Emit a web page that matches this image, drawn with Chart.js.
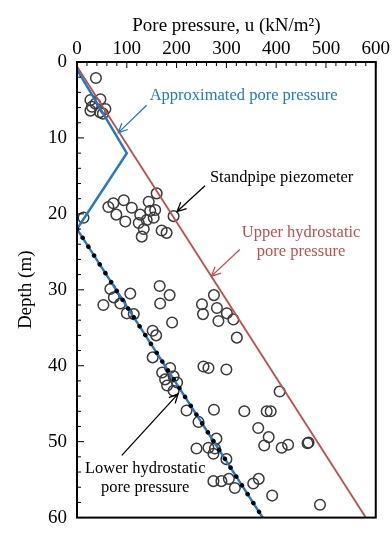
<!DOCTYPE html>
<html>
<head>
<meta charset="utf-8">
<script src="https://cdn.jsdelivr.net/npm/chart.js@4.4.1/dist/chart.umd.min.js"></script>
<style>
  html, body { margin: 0; padding: 0; background: #fff; }
  canvas { display: block; }
</style>
</head>
<body>
<canvas id="depthChart" width="392" height="539"></canvas>
<script>
// axis ranges
const uMin = 0, uMax = 600, uStep = 100;
const depthMin = 0, depthMax = 60, depthStep = 10;

// hydrostatic and approximated profiles (u in kN/m2, depth in m)
const upperU = [0, 580];
const upperDepth = [0.6, 60];
const approxU = [0, 100, 0, 373];
const approxDepth = [1, 12, 22, 60];
const lowerU = [0, 373];
const lowerDepth = [22, 60];

// standpipe piezometer readings
const piezoU = [
  38, 27, 47, 37, 30, 57, 27, 46, 52,
  160, 73, 63, 94, 110, 144, 157, 147, 127, 79, 97, 124, 140, 154, 134, 130, 170, 180, 194, 13,
  67, 53, 74, 87, 107, 100, 114, 166, 186, 167, 191, 152, 159, 251, 275, 253, 281, 284, 301, 314, 321,
  152, 187, 171, 194, 177, 201, 181, 194, 254, 264, 300, 407,
  220, 275, 336, 381, 389, 244, 364, 280, 385, 376, 240, 264, 277, 274, 300, 411, 424, 463, 465,
  274, 290, 305, 317, 354, 365, 392, 488
];
const piezoDepth = [
  2.1, 5.0, 4.9, 5.5, 5.9, 6.2, 6.4, 6.6, 6.8,
  17.3, 18.6, 19.1, 18.2, 19.2, 18.4, 19.5, 19.6, 20.1, 20.1, 21.0, 21.2, 20.8, 20.5, 22.0, 23.0, 22.2, 22.5, 20.3, 20.5,
  29.9, 32.0, 31.0, 31.8, 30.5, 33.1, 33.2, 29.5, 30.7, 31.8, 34.3, 35.4, 36.0, 31.9, 30.7, 33.2, 32.4, 34.1, 33.1, 33.9, 36.3,
  38.9, 40.3, 40.9, 41.4, 41.8, 42.2, 42.6, 43.3, 40.1, 40.3, 40.5, 43.4,
  45.9, 45.8, 46.0, 46.0, 46.0, 47.4, 48.2, 49.6, 49.4, 50.5, 50.9, 50.8, 50.9, 51.6, 52.3, 50.8, 50.4, 50.2, 50.1,
  55.2, 55.2, 54.9, 56.1, 55.5, 54.9, 57.1, 58.3
];

const blue = '#2479c5';
const red = '#c0504d';
const serif = '"Liberation Serif", "DejaVu Serif", serif';

const toPoints = (us, ds) => us.map((u, i) => ({ x: u, y: ds[i] }));

// callouts, positioned in data units
const callouts = [
  { lines: ['Approximated pore pressure'], u: 146, d: 4.5, align: 'left', color: blue, from: [140, 5.7], to: [83, 9.3] },
  { lines: ['Standpipe piezometer'], u: 267, d: 15.2, align: 'left', color: '#000', from: [257, 16.3], to: [201, 19.7] },
  { lines: ['Upper hydrostatic', 'pore pressure'], u: 450, d: 22.5, align: 'center', color: red, from: [327, 24.7], to: [270, 28.2] },
  { lines: ['Lower hydrostatic', 'pore pressure'], u: 137, d: 53.6, align: 'center', color: '#000', from: [90, 51.8], to: [203, 43.7] }
];

const framePlugin = {
  id: 'frame',
  afterDatasetsDraw(chart) {
    const { ctx, chartArea: a, scales: { x, y } } = chart;
    ctx.save();
    ctx.strokeStyle = '#000';
    // inner ticks along the top axis
    ctx.lineWidth = 1;
    for (let u = uMin; u <= uMax; u += 20) {
      const px = x.getPixelForValue(u);
      const len = u % uStep === 0 ? 6 : 4;
      ctx.beginPath();
      ctx.moveTo(px, a.top);
      ctx.lineTo(px, a.top + len);
      ctx.stroke();
    }
    // inner ticks along the depth axis
    for (let d = depthMin; d <= depthMax; d += 2) {
      const py = y.getPixelForValue(d);
      const len = d % depthStep === 0 ? 7 : 4;
      ctx.beginPath();
      ctx.moveTo(a.left, py);
      ctx.lineTo(a.left + len, py);
      ctx.stroke();
    }
    ctx.lineWidth = 2;
    ctx.strokeRect(a.left, a.top, a.right - a.left, a.bottom - a.top);

    // callout text and arrows
    ctx.font = '16.5px ' + serif;
    ctx.textBaseline = 'middle';
    callouts.forEach(c => {
      ctx.fillStyle = c.color;
      ctx.strokeStyle = c.color;
      ctx.textAlign = c.align;
      const tx = x.getPixelForValue(c.u);
      const ty = y.getPixelForValue(c.d);
      c.lines.forEach((line, i) => ctx.fillText(line, tx, ty + i * 19));
      const x0 = x.getPixelForValue(c.from[0]), y0 = y.getPixelForValue(c.from[1]);
      const x1 = x.getPixelForValue(c.to[0]), y1 = y.getPixelForValue(c.to[1]);
      const ang = Math.atan2(y1 - y0, x1 - x0);
      ctx.lineWidth = 1.3;
      ctx.beginPath();
      ctx.moveTo(x0, y0);
      ctx.lineTo(x1, y1);
      ctx.moveTo(x1 - 10 * Math.cos(ang - 0.45), y1 - 10 * Math.sin(ang - 0.45));
      ctx.lineTo(x1, y1);
      ctx.lineTo(x1 - 10 * Math.cos(ang + 0.45), y1 - 10 * Math.sin(ang + 0.45));
      ctx.stroke();
    });
    ctx.restore();
  }
};

new Chart(document.getElementById('depthChart'), {
  type: 'scatter',
  data: {
    datasets: [
      {
        label: 'Lower hydrostatic pore pressure',
        data: toPoints(lowerU, lowerDepth),
        showLine: true,
        borderColor: '#000',
        borderWidth: 4.5,
        borderDash: [0.01, 10.5],
        borderCapStyle: 'round',
        pointRadius: 0,
        order: 1
      },
      {
        label: 'Approximated pore pressure',
        data: toPoints(approxU, approxDepth),
        showLine: true,
        borderColor: blue,
        borderWidth: 2.5,
        pointRadius: 0,
        order: 2
      },
      {
        label: 'Upper hydrostatic pore pressure',
        data: toPoints(upperU, upperDepth),
        showLine: true,
        borderColor: red,
        borderWidth: 1.8,
        pointRadius: 0,
        order: 3
      },
      {
        label: 'Standpipe piezometer',
        data: toPoints(piezoU, piezoDepth),
        pointStyle: 'circle',
        pointRadius: 5.3,
        pointBorderWidth: 1.5,
        pointBorderColor: '#3a3a3a',
        pointBackgroundColor: 'rgba(0,0,0,0)',
        order: 4
      }
    ]
  },
  options: {
    responsive: false,
    animation: false,
    layout: { padding: { left: 0, top: 0, right: 16, bottom: 6 } },
    plugins: {
      legend: { display: false },
      tooltip: { enabled: false }
    },
    scales: {
      x: {
        type: 'linear',
        position: 'top',
        min: uMin,
        max: uMax,
        afterFit: s => { s.height = 62; },
        ticks: { stepSize: uStep, color: '#000', padding: 2, font: { family: serif, size: 19 } },
        grid: { display: false, drawTicks: false },
        border: { display: false },
        title: {
          display: true,
          text: 'Pore pressure, u (kN/m²)',
          color: '#000',
          font: { family: serif, size: 19 },
          padding: { top: 15, bottom: 0 }
        }
      },
      y: {
        type: 'linear',
        reverse: true,
        min: depthMin,
        max: depthMax,
        afterFit: s => { s.width = 77; },
        ticks: { stepSize: depthStep, color: '#000', padding: 10, font: { family: serif, size: 19 } },
        grid: { display: false, drawTicks: false },
        border: { display: false },
        title: {
          display: true,
          text: 'Depth (m)',
          color: '#000',
          font: { family: serif, size: 19 },
          padding: { top: 15, bottom: 0 }
        }
      }
    }
  },
  plugins: [framePlugin]
});
</script>
</body>
</html>
